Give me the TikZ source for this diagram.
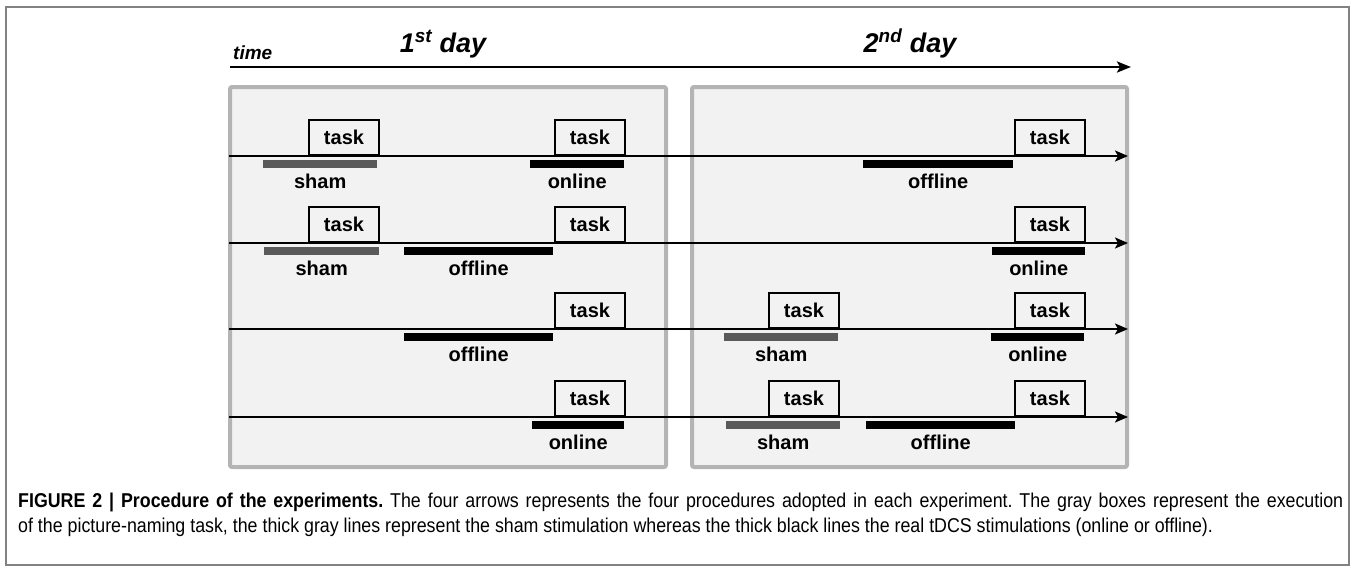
\documentclass[tikz,border=0pt]{standalone}
\usepackage{fontspec}
\setmainfont{Liberation Sans}
\newfontfamily\capfont[FakeStretch=0.89]{Liberation Sans}
\usepackage{xcolor}
\usepackage{tikz}
\usetikzlibrary{arrows.meta, positioning}
\definecolor{daygray}{RGB}{180,180,180}
\definecolor{dayfill}{RGB}{242,242,242}
\definecolor{shamgray}{RGB}{90,90,90}
\definecolor{framegray}{RGB}{130,130,130}

\tikzset{
  dayframe/.style={draw=daygray, fill=dayfill, line width=4pt, rounded corners=2pt},
  timeline/.style={-{Stealth[length=13pt, width=11pt, inset=3pt]}, line width=2pt},
  taskbox/.style={draw, line width=2pt, anchor=south west, minimum width=70pt,
    minimum height=35pt, inner sep=0pt, font=\fontsize{20}{24}\selectfont\bfseries},
  shambar/.style={fill=shamgray, anchor=north west, minimum height=8pt, inner sep=0pt},
  realbar/.style={fill=black, anchor=north west, minimum height=8pt, inner sep=0pt},
  barlabel/.style={inner sep=0pt, font=\fontsize{20}{24}\selectfont\bfseries}
}

\begin{document}
\begin{tikzpicture}[x=1pt, y=-1pt]
\useasboundingbox (0,0) rectangle (1355,571);
\draw[framegray, line width=1.5pt] (6,7) rectangle (1349,565);

% Time axis
\coordinate (ta) at (230,67);
\coordinate (tb) at (1131,67);
\draw[-{Stealth[length=14pt, width=11pt, inset=3pt]}, line width=2.5pt] (ta) -- (tb);
\node[anchor=base west, inner sep=0pt, font=\fontsize{19}{22}\selectfont\bfseries\itshape] (time) at (233,59) {time};
\node[anchor=base, inner sep=0pt, font=\fontsize{27}{30}\selectfont\bfseries\itshape] (day1) at (443,52) {1\textsuperscript{st} day};
\node[anchor=base, inner sep=0pt, font=\fontsize{27}{30}\selectfont\bfseries\itshape] (day2) at (910,52) {2\textsuperscript{nd} day};

% Day boxes
\draw[dayframe] (230,87) rectangle (666,467);
\draw[dayframe] (692,87) rectangle (1127,467);

% Procedure 1
\coordinate (r1a) at (229,156);
\coordinate (r1b) at (1128,156);
\draw[timeline] (r1a) -- (r1b);
\node[taskbox] (t1a) at (308,156) {task};
\node[taskbox] (t1b) at (554,156) {task};
\node[taskbox] (t1c) at (1014,156) {task};
\node[shambar, minimum width=114pt] (s1a) at (263,160) {};
\node[barlabel, below=5pt of s1a] (l1a) {sham};
\node[realbar, minimum width=94pt] (s1b) at (530,160) {};
\node[barlabel, below=5pt of s1b] (l1b) {online};
\node[realbar, minimum width=150pt] (s1c) at (863,160) {};
\node[barlabel, below=5pt of s1c] (l1c) {offline};

% Procedure 2
\coordinate (r2a) at (229,243);
\coordinate (r2b) at (1128,243);
\draw[timeline] (r2a) -- (r2b);
\node[taskbox] (t2a) at (308,243) {task};
\node[taskbox] (t2b) at (554,243) {task};
\node[taskbox] (t2c) at (1014,243) {task};
\node[shambar, minimum width=115pt] (s2a) at (264,247) {};
\node[barlabel, below=5pt of s2a] (l2a) {sham};
\node[realbar, minimum width=149pt] (s2b) at (404,247) {};
\node[barlabel, below=5pt of s2b] (l2b) {offline};
\node[realbar, minimum width=93pt] (s2c) at (992,247) {};
\node[barlabel, below=5pt of s2c] (l2c) {online};

% Procedure 3
\coordinate (r3a) at (229,329);
\coordinate (r3b) at (1128,329);
\draw[timeline] (r3a) -- (r3b);
\node[taskbox] (t3a) at (554,329) {task};
\node[taskbox] (t3b) at (768,329) {task};
\node[taskbox] (t3c) at (1014,329) {task};
\node[realbar, minimum width=149pt] (s3a) at (404,333) {};
\node[barlabel, below=5pt of s3a] (l3a) {offline};
\node[shambar, minimum width=114pt] (s3b) at (724,333) {};
\node[barlabel, below=5pt of s3b] (l3b) {sham};
\node[realbar, minimum width=93pt] (s3c) at (991,333) {};
\node[barlabel, below=5pt of s3c] (l3c) {online};

% Procedure 4
\coordinate (r4a) at (229,417);
\coordinate (r4b) at (1128,417);
\draw[timeline] (r4a) -- (r4b);
\node[taskbox] (t4a) at (554,417) {task};
\node[taskbox] (t4b) at (768,417) {task};
\node[taskbox] (t4c) at (1014,417) {task};
\node[realbar, minimum width=92pt] (s4a) at (532,421) {};
\node[barlabel, below=5pt of s4a] (l4a) {online};
\node[shambar, minimum width=114pt] (s4b) at (726,421) {};
\node[barlabel, below=5pt of s4b] (l4b) {sham};
\node[realbar, minimum width=149pt] (s4c) at (866,421) {};
\node[barlabel, below=5pt of s4c] (l4c) {offline};

% Caption
\node[anchor=base west, inner sep=0pt, text width=1325pt, align=justify, font=\capfont\fontsize{20}{25}\selectfont\frenchspacing] (caption) at (18,507)
  {\textbf{FIGURE 2 | Procedure of the experiments.} The four arrows represents the four procedures adopted in each experiment. The gray boxes represent the execution\linebreak
   of the picture-naming task, the thick gray lines represent the sham stimulation whereas the thick black lines the real tDCS stimulations (online or offline).};
\end{tikzpicture}
\end{document}
